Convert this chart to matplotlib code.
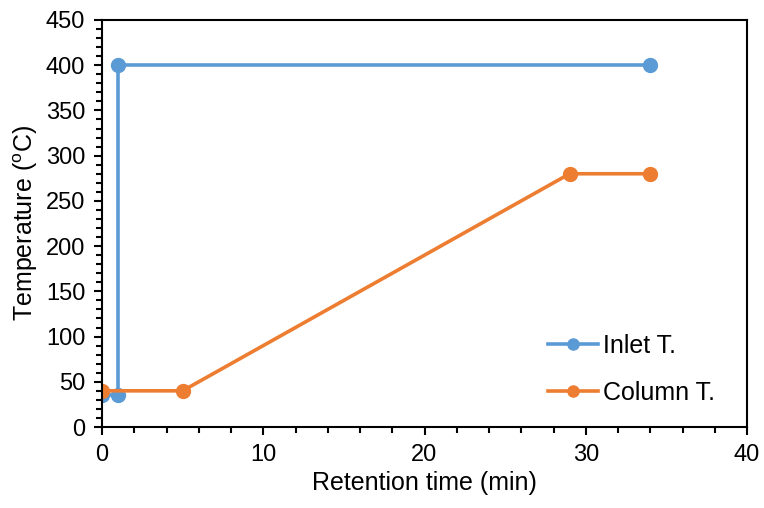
import matplotlib.pyplot as plt
from matplotlib.ticker import MultipleLocator

plt.rcParams['font.family'] = ['Liberation Sans', 'DejaVu Sans']

# inlet temperature program
inlet_t = [0, 1, 1, 34]
inlet_T = [35, 35, 400, 400]

# column oven program
col_t = [0, 5, 29, 34]
col_T = [40, 40, 280, 280]

fig = plt.figure(figsize=(7.64, 5.08), dpi=100)
ax = fig.add_axes([102/764, 1-427/508, (747-102)/764, (427-20)/508])

ax.plot(inlet_t, inlet_T, color='#5b9bd5', lw=2.6, marker='o', ms=10, label='Inlet T.')
ax.plot(col_t, col_T, color='#ed7d31', lw=2.6, marker='o', ms=10, label='Column T.')

ax.set_xlim(0, 40)
ax.set_ylim(0, 450)
ax.xaxis.set_major_locator(MultipleLocator(10))
ax.xaxis.set_minor_locator(MultipleLocator(2))
ax.yaxis.set_major_locator(MultipleLocator(50))
ax.yaxis.set_minor_locator(MultipleLocator(10))
ax.tick_params(which='major', direction='out', length=6, width=1.5, labelsize=17, pad=6)
ax.tick_params(which='minor', direction='out', length=4, width=1.5)
for s in ax.spines.values():
    s.set_linewidth(1.5)

ax.set_xlabel('Retention time (min)', fontsize=18, labelpad=4)
ax.set_ylabel('Temperature ($\\mathregular{^o}$C)', fontsize=18, labelpad=4)

ax.legend(loc='lower right', frameon=False, fontsize=18, bbox_to_anchor=(0.985, 0.0),
          handlelength=2.0, handletextpad=0.2, labelspacing=0.9, markerscale=0.8)

plt.savefig('out.png', dpi=100)
